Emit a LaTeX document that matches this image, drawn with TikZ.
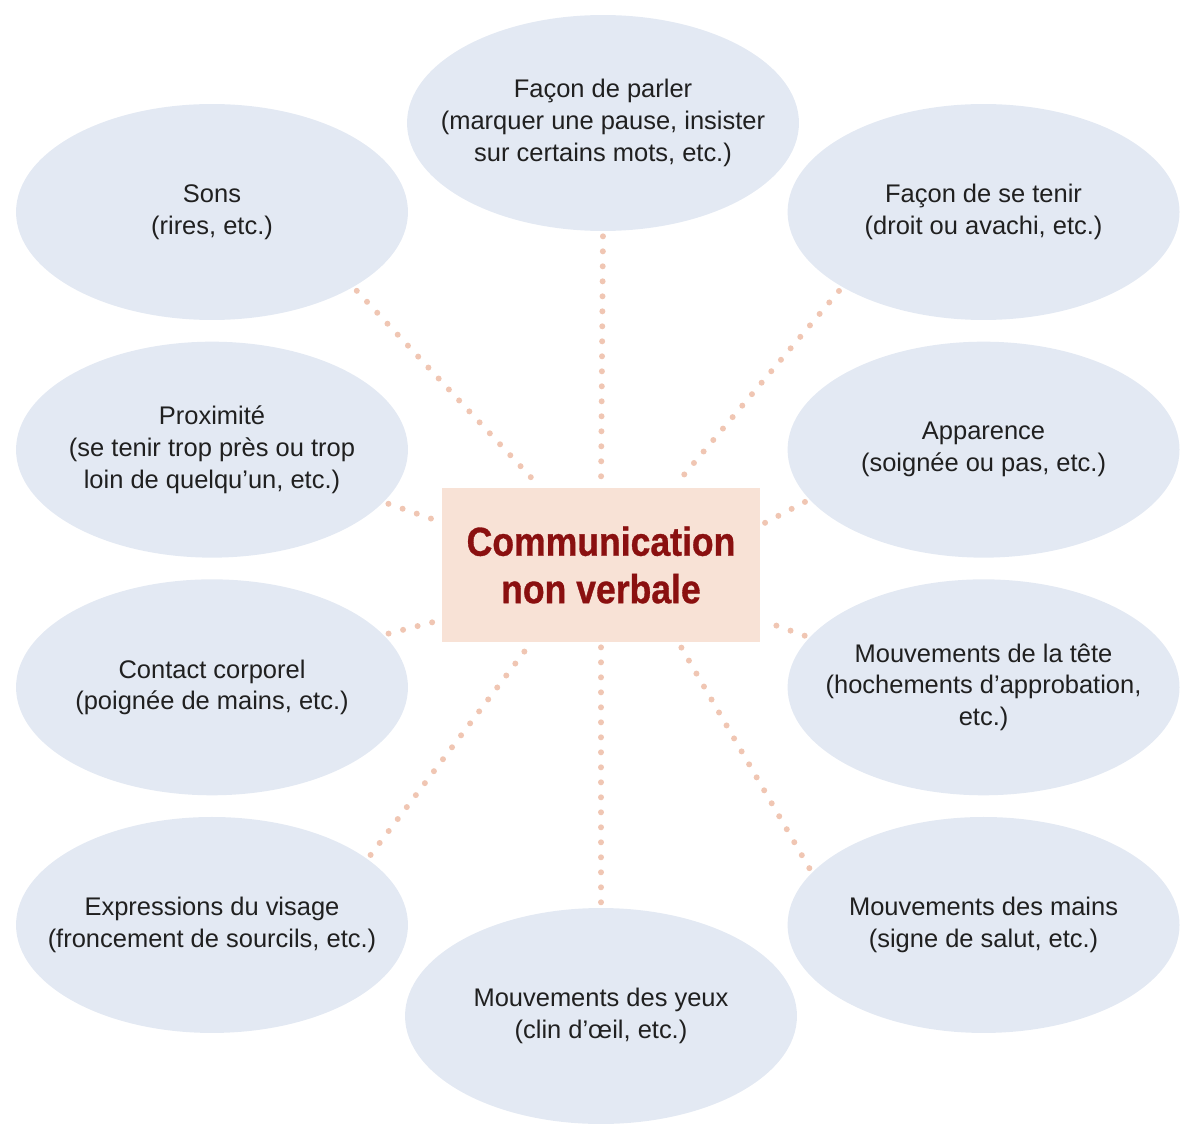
\documentclass[tikz,border=0pt]{standalone}
\usepackage{fontspec}
\setmainfont{Liberation Sans}
\newfontfamily\titlefont[FakeStretch=0.88, FakeBold=0.8]{Liberation Sans}
\usepackage{xcolor}
\usepackage{tikz}
\usetikzlibrary{positioning, shapes.geometric, backgrounds}

\definecolor{blobfill}{HTML}{E3E9F3}
\definecolor{boxfill}{HTML}{F8E2D6}
\definecolor{dotcol}{HTML}{F0C6B3}
\definecolor{titlecol}{HTML}{8A1010}
\definecolor{txtcol}{HTML}{202020}

\begin{document}
\begin{tikzpicture}[
      x=0.02cm, y=-0.02cm,
      font=\fontsize{14.5}{18.1}\selectfont,
      node distance=0.42cm and 7.58cm,
      blob/.style={ellipse, fill=blobfill, text=txtcol, align=center,
                   minimum width=7.84cm, minimum height=4.32cm,
                   inner xsep=-0.7cm, inner ysep=0pt},
      centrebox/.style={fill=boxfill, text=titlecol, align=center,
                   minimum width=6.36cm, minimum height=3.08cm,
                   font=\titlefont\bfseries\fontsize{23}{27}\selectfont},
      link/.style={draw=dotcol, line width=0.12cm, line cap=round,
                   dash pattern=on 0pt off 0.3cm,
                   shorten <=0.1cm, shorten >=0.1cm}
  ]
  \useasboundingbox (0,0) rectangle (1200,1135);

  % Nodes ------------------------------------------------
  \node[centrebox] (cnv) at (601,565) {Communication\\ non verbale};
  \node[blob] (parler) at (603,123) {Façon de parler\\ (marquer une pause, insister\\ sur certains mots, etc.)};
  \node[blob] (sons) at (212,212) {Sons\\ (rires, etc.)};
  \node[blob, below=of sons]    (prox)    {Proximité\\ (se tenir trop près ou trop\\ loin de quelqu’un, etc.)};
  \node[blob, below=of prox]    (contact) {Contact corporel\\ (poignée de mains, etc.)};
  \node[blob, below=of contact] (expr)    {Expressions du visage\\ (froncement de sourcils, etc.)};
  \node[blob, right=of sons]    (tenir)   {Façon de se tenir\\ (droit ou avachi, etc.)};
  \node[blob, right=of prox]    (appar)   {Apparence\\ (soignée ou pas, etc.)};
  \node[blob, right=of contact] (tete)    {Mouvements de la tête\\ (hochements d’approbation,\\ etc.)};
  \node[blob, right=of expr]    (mains)   {Mouvements des mains\\ (signe de salut, etc.)};
  \node[blob] (yeux) at (601,1016) {Mouvements des yeux\\ (clin d’œil, etc.)};

  % Dotted links ------------------------------------------
  \begin{pgfonlayer}{background}
  \draw[link] (parler.south) -- (cnv.north);
  \draw[link] (sons.-28) -- (cnv.128);
  \draw[link] (tenir.-152) -- (cnv.47);
  \draw[link] (prox.-17) -- (cnv.165);
  \draw[link] (appar.-164) -- (cnv.14);
  \draw[link] (contact.17) -- (cnv.-161);
  \draw[link] (tete.164) -- (cnv.-19);
  \draw[link] (expr.23) -- (cnv.-132);
  \draw[link] (mains.163) -- (cnv.-45);
  \draw[link] (cnv.south) -- (yeux.north);
  \end{pgfonlayer}
\end{tikzpicture}
\end{document}
